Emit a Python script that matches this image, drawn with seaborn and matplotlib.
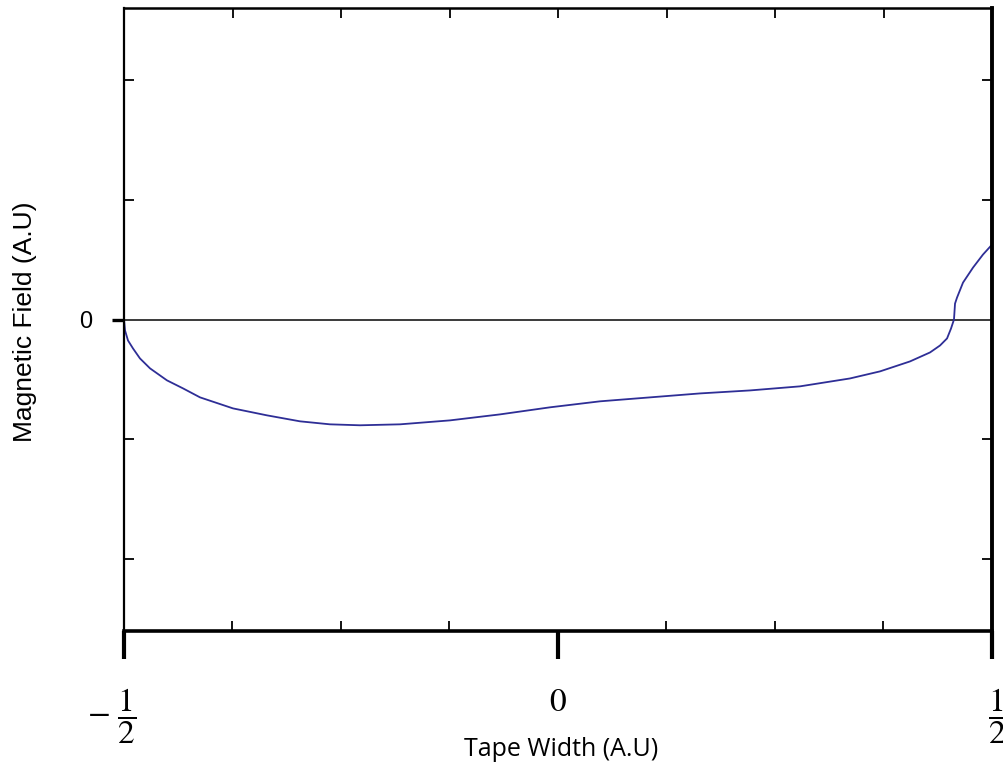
import numpy as np
import pandas as pd
import matplotlib
matplotlib.use("Agg")
import matplotlib.pyplot as plt
from matplotlib.transforms import ScaledTranslation
import seaborn as sns

# Field profile across the tape width (arbitrary units)
tape_x = [-0.5, -0.4988, -0.4954, -0.4896, -0.4816, -0.4700, -0.4505, -0.4320,
          -0.4124, -0.3744, -0.3353, -0.2972, -0.2627, -0.2281, -0.1820, -0.1244,
          -0.0668, -0.0092, 0.0484, 0.1060, 0.1636, 0.2212, 0.2788, 0.3364,
          0.3710, 0.4055, 0.4286, 0.4401, 0.4482, 0.4528, 0.4562, 0.4574,
          0.4597, 0.4666, 0.4781, 0.4896, 0.5]
field_y = [0.0, -0.092, -0.175, -0.242, -0.325, -0.408, -0.508, -0.575,
           -0.650, -0.742, -0.800, -0.850, -0.875, -0.883, -0.875, -0.842,
           -0.792, -0.733, -0.683, -0.650, -0.617, -0.592, -0.558, -0.492,
           -0.433, -0.350, -0.275, -0.217, -0.158, -0.075, 0.0, 0.133,
           0.183, 0.308, 0.433, 0.542, 0.625]

major_x = [-0.5, 0.0, 0.5]
major_x_labels = [r"$-\ \dfrac{1}{2}$", r"$0$", r"$\dfrac{1}{2}$"]
minor_x = [-0.375, -0.25, -0.125, 0.125, 0.25, 0.375]
all_x = [-0.5, -0.375, -0.25, -0.125, 0.0, 0.125, 0.25, 0.375, 0.5]
minor_y = [-2, -1, 1, 2]

sns.set_style("white")
plt.rcParams["font.family"] = ["Liberation Sans", "DejaVu Sans"]
plt.rcParams["mathtext.fontset"] = "stix"
plt.rcParams["text.color"] = "black"
plt.rcParams["axes.labelcolor"] = "black"
plt.rcParams["xtick.color"] = "black"
plt.rcParams["ytick.color"] = "black"

df = pd.DataFrame({"x": tape_x, "y": field_y})

fig = plt.figure(figsize=(10.04, 7.69), dpi=100)
ax = fig.add_axes([124 / 1004, 1 - 631 / 769, 868 / 1004, 623 / 769])

ax.axhline(0, color="#3a3a3a", lw=1.4, zorder=1)
sns.lineplot(data=df, x="x", y="y", ax=ax, color="#2e2e96", lw=1.3,
             sort=False, estimator=None, zorder=2)

ax.set_xlim(-0.5, 0.5)
ax.set_ylim(-2.6, 2.6)

# bottom axis: long outward majors, short inward minors
ax.set_xticks(major_x)
ax.set_xticklabels(major_x_labels, fontsize=24)
ax.set_xticks(minor_x, minor=True)
ax.tick_params(axis="x", which="major", direction="out", length=20, width=3,
               pad=20, bottom=True, top=False)
ax.tick_params(axis="x", which="minor", direction="in", length=7, width=1.3,
               bottom=True, top=False)

labels = ax.get_xticklabels()
labels[0].set_transform(labels[0].get_transform()
                        + ScaledTranslation(-12 / 100, 0, fig.dpi_scale_trans))
labels[2].set_transform(labels[2].get_transform()
                        + ScaledTranslation(5 / 100, 0, fig.dpi_scale_trans))

# left axis: a single outward tick at zero, inward minors on both sides
ax.set_yticks([0])
ax.set_yticklabels(["0"], fontsize=17)
ax.set_yticks(minor_y, minor=True)
ax.tick_params(axis="y", which="major", direction="out", length=9, width=2.4,
               pad=14, left=True, right=False)
ax.tick_params(axis="y", which="minor", direction="in", length=7, width=1.3,
               left=True, right=True)

# top axis ticks
top = ax.secondary_xaxis("top")
top.set_xticks(all_x)
top.set_xticklabels([])
top.tick_params(direction="in", length=7, width=1.3, color="black", top=True)
top.spines["top"].set_visible(False)

for side, w in {"left": 1.6, "top": 1.8, "bottom": 2.6, "right": 2.8}.items():
    ax.spines[side].set_visible(True)
    ax.spines[side].set_color("black")
    ax.spines[side].set_linewidth(w)

ax.set_xlabel("Tape Width (A.U)", fontsize=18, family=["Open Sans", "DejaVu Sans"])
ax.xaxis.set_label_coords(0.5035, -0.170)
ax.set_ylabel("Magnetic Field (A.U)", fontsize=19)
ax.yaxis.set_label_coords(-0.100, 0.497)

fig.savefig("out.png", dpi=100)
